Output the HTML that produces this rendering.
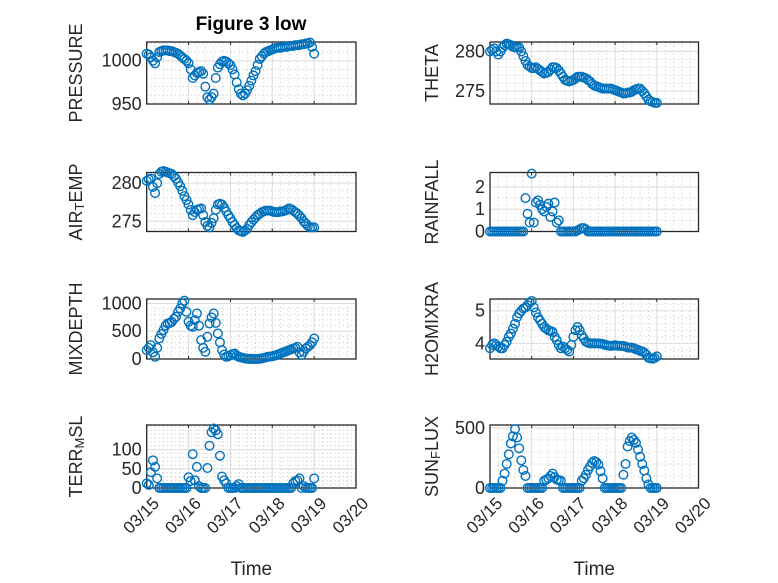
<!DOCTYPE html>
<html><head><meta charset="utf-8"><style>
html,body{margin:0;padding:0;background:#fff;}
svg{display:block;font-family:"Liberation Sans",sans-serif;}
</style></head><body>
<svg id="fig" width="778" height="583" viewBox="0 0 778 583">
<text x="251" y="30" text-anchor="middle" font-size="19" font-weight="bold" fill="#000">Figure 3 low</text>
</svg>
<script>
const times = Array.from({length:81},(_, i)=>i*0.05);
const dateLabels = ["03/15","03/16","03/17","03/18","03/19","03/20"];
const pressure = [1008,1007,1004,1000,997,1004,1010,1011,1012,1012,
1012,1011,1011,1010,1009,1008,1006,1004,1002,1000,
997,990,980,983,986,987,988,985,970,958,
955,958,962,980,992,996,999,1000,999,997,
995,990,984,975,967,962,960,962,966,971,
977,983,988,995,1002,1005,1008,1010,1011,1012,
1013,1014,1015,1015,1015,1016,1016,1016,1017,1017,
1017,1018,1018,1018,1019,1019,1020,1020,1021,1016,
1008];
const theta = [280,280.2,280.4,280,279.6,280,280.5,280.8,281,280.9,
280.8,280.6,280.5,280.5,280.5,280,279.4,278.8,278.3,278.1,
277.9,277.9,278,277.8,277.6,277.4,277.2,277.3,277.4,277.7,
278,278,277.9,277.6,277.2,276.8,276.4,276.3,276.2,276.3,
276.4,276.6,276.8,276.8,276.8,276.7,276.6,276.4,276.2,275.9,
275.7,275.6,275.5,275.4,275.3,275.3,275.3,275.3,275.3,275.2,
275.1,275,274.9,274.8,274.7,274.7,274.8,274.8,274.9,275.1,
275.2,275.3,275.3,275,274.7,274.3,273.9,273.7,273.6,273.5,
273.5];
const airTemp = [280.3,280.5,280.6,279.5,278.7,280,281.2,281.5,281.6,281.5,
281.4,281.3,281.2,280.9,280.6,280.1,279.6,279,278.3,277.8,
277.2,276.5,275.8,276.2,276.5,276.6,276.7,275.8,274.9,274.4,
274.2,274.8,275.4,276.5,277.2,277.3,277.2,276.8,276.3,275.8,
275.4,274.9,274.5,274.1,273.8,273.7,273.6,273.8,274,274.5,
274.9,275.2,275.5,275.8,276,276.2,276.3,276.4,276.4,276.4,
276.3,276.2,276.2,276.2,276.3,276.3,276.4,276.5,276.7,276.6,
276.4,276.2,276,275.7,275.4,275,274.7,274.4,274.2,274.2,
274.2];
const rainfall = [0,0,0,0,0,0,0,0,0,0,
0,0,0,0,0,0,0,1.5,0.8,0.4,
2.6,0.4,1.3,1.4,1.2,1.0,0.9,1.1,1.25,0.65,
0.9,1.3,0.4,0.5,0,0,0,0,0,0,
0,0,0.05,0.1,0.15,0.15,0.1,0,0,0,
0,0,0,0,0,0,0,0,0,0,
0,0,0,0,0,0,0,0,0,0,
0,0,0,0,0,0,0,0,0,0,
0];
const mixDepth = [160,200,250,120,40,200,370,450,520,600,
640,650,670,720,760,850,910,1000,1050,850,
670,600,580,700,820,600,340,200,130,400,
640,750,820,650,460,300,160,80,40,50,
70,90,100,60,40,30,20,10,5,2,
0,0,0,0,5,10,20,30,40,45,
50,60,70,85,100,115,130,145,160,175,
190,200,220,120,70,130,190,220,250,300,
370];
const h2oMix = [3.85,3.95,4.0,3.95,3.9,3.85,3.85,3.95,4.05,4.2,
4.3,4.45,4.6,4.8,4.92,5.0,5.07,5.1,5.17,5.25,
5.3,5.1,4.95,4.8,4.7,4.6,4.5,4.45,4.4,4.38,
4.35,4.2,4.1,3.95,3.85,3.9,3.85,3.8,3.75,3.95,
4.2,4.4,4.5,4.4,4.25,4.15,4.05,4.02,4.0,4.0,
4.0,4.0,4.0,3.99,3.98,3.96,3.94,3.93,3.92,3.93,
3.94,3.93,3.92,3.92,3.92,3.9,3.87,3.87,3.87,3.85,
3.82,3.8,3.77,3.75,3.72,3.65,3.56,3.54,3.53,3.55,
3.6];
const terrMsl = [12,8,41,72,55,25,0,0,0,0,
0,0,0,0,0,0,0,0,0,0,
28,18,88,20,55,5,0,0,0,52,
110,145,155,150,140,84,30,20,12,0,
0,0,0,5,10,0,0,0,0,0,
0,0,0,0,0,0,0,0,0,0,
0,0,0,0,0,0,0,0,0,0,
12,18,20,25,0,5,0,0,0,0,
25];
const sunFlux = [0,0,0,0,0,0,60,120,200,280,
370,430,490,420,330,230,150,100,0,0,
0,0,0,0,0,0,60,70,80,100,
120,90,70,65,60,0,0,0,0,0,
0,0,0,0,60,80,110,150,180,210,
225,215,195,140,80,0,0,0,0,0,
0,0,0,0,110,200,345,390,420,400,
375,320,260,200,145,80,30,0,0,0,
0];

const NS="http://www.w3.org/2000/svg";
const svg=document.getElementById('fig');
function mk(tag,attrs,parent){const e=document.createElementNS(NS,tag);for(const k in attrs)e.setAttribute(k,attrs[k]);(parent||svg).appendChild(e);return e;}

const panels=[
 {key:'pressure',vals:pressure,col:0,row:0,ymin:950,ymax:1021.6,ticks:[950,1000],minor:10,label:['PRESSURE']},
 {key:'theta',vals:theta,col:1,row:0,ymin:273.35,ymax:281.2,ticks:[275,280],minor:1,label:['THETA']},
 {key:'air-temp',vals:airTemp,col:0,row:1,ymin:273.66,ymax:281.4,ticks:[275,280],minor:1,label:['AIR','T','EMP']},
 {key:'rainfall',vals:rainfall,col:1,row:1,ymin:0,ymax:2.65,ticks:[0,1,2],minor:0.5,label:['RAINFALL']},
 {key:'mixdepth',vals:mixDepth,col:0,row:2,ymin:0,ymax:1080,ticks:[0,500,1000],minor:100,label:['MIXDEPTH']},
 {key:'h2omixra',vals:h2oMix,col:1,row:2,ymin:3.52,ymax:5.36,ticks:[4,5],minor:0.2,label:['H2OMIXRA']},
 {key:'terr-msl',vals:terrMsl,col:0,row:3,ymin:0,ymax:164,ticks:[0,50,100],minor:10,label:['TERR','M','SL']},
 {key:'sun-flux',vals:sunFlux,col:1,row:3,ymin:0,ymax:524,ticks:[0,500],minor:100,label:['SUN','F','LUX']}
];
const colX=[[146.7,356],[490,698.5]];
const rowY=[[42,104],[172.5,231.5],[299,359],[425,488]];
const labelX=[77,433];

panels.forEach(p=>{
 const [x0,x1]=colX[p.col],[y0,y1]=rowY[p.row];
 const g=mk('g',{});
 
 
 const xs=t=>x0+(t/5)*(x1-x0);
 const ys=v=>y1-(v-p.ymin)/(p.ymax-p.ymin)*(y1-y0);
 mk('rect',{x:x0,y:y0,width:x1-x0,height:y1-y0,fill:'#fff'},g);
 for(let t=0.2;t<5;t+=0.2){if(Math.abs(t-Math.round(t))<1e-6)continue;mk('line',{x1:xs(t),x2:xs(t),y1:y0,y2:y1,stroke:'#c8c8c8','stroke-width':1,'stroke-dasharray':'1,3'},g);}
 for(let v=Math.ceil(p.ymin/p.minor)*p.minor;v<=p.ymax;v+=p.minor){if(p.ticks.some(tk=>Math.abs(tk-v)<1e-6))continue;mk('line',{x1:x0,x2:x1,y1:ys(v),y2:ys(v),stroke:'#c8c8c8','stroke-width':1,'stroke-dasharray':'1,3'},g);}
 for(let d=1;d<5;d++)mk('line',{x1:xs(d),x2:xs(d),y1:y0,y2:y1,stroke:'#dcdcdc','stroke-width':1},g);
 p.ticks.forEach(v=>{mk('line',{x1:x0,x2:x1,y1:ys(v),y2:ys(v),stroke:'#dcdcdc','stroke-width':1},g);});
 mk('rect',{x:x0,y:y0,width:x1-x0,height:y1-y0,fill:'none',stroke:'#262626','stroke-width':1.3},g);
 for(let d=0;d<=5;d++){mk('line',{x1:xs(d),x2:xs(d),y1:y1,y2:y1-3,stroke:'#262626'},g);mk('line',{x1:xs(d),x2:xs(d),y1:y0,y2:y0+3,stroke:'#262626'},g);}
 p.ticks.forEach(v=>{
  const tl=mk('text',{x:x0-5,y:ys(v)+6,'text-anchor':'end','font-size':18,fill:'#262626'},g);
  
  
  tl.textContent=String(v);
 });
 const cy=(y0+y1)/2;
 const yl=mk('text',{x:labelX[p.col],y:cy,transform:`rotate(-90 ${labelX[p.col]} ${cy})`,'text-anchor':'middle','font-size':18,fill:'#262626','dominant-baseline':'middle'},g);
 
 
 if(p.label.length===1){yl.textContent=p.label[0];}
 else{const a=mk('tspan',{},yl);a.textContent=p.label[0];const b=mk('tspan',{'baseline-shift':'-30%','font-size':13},yl);b.textContent=p.label[1];const c=mk('tspan',{'baseline-shift':'0%'},yl);c.textContent=p.label[2];}
 times.forEach((t,i)=>{
  const c=mk('circle',{cx:xs(t),cy:ys(p.vals[i]),r:4.3,fill:'none',stroke:'#0072BD','stroke-width':1.4},g);
  
  
 });
 if(p.row===3){
  dateLabels.forEach((lab,d)=>{
   const tx=xs(d)+5,ty=y1+8;
   const t=mk('text',{x:tx,y:ty,transform:`rotate(-45 ${tx} ${ty})`,'text-anchor':'end','dominant-baseline':'hanging','font-size':17,fill:'#262626'},g);
   
   
   t.textContent=lab;
  });
  const xt=mk('text',{x:(x0+x1)/2,y:575,'text-anchor':'middle','font-size':19,fill:'#262626'},g);
  
  
  xt.textContent='Time';
 }
});
</script>
</body></html>
